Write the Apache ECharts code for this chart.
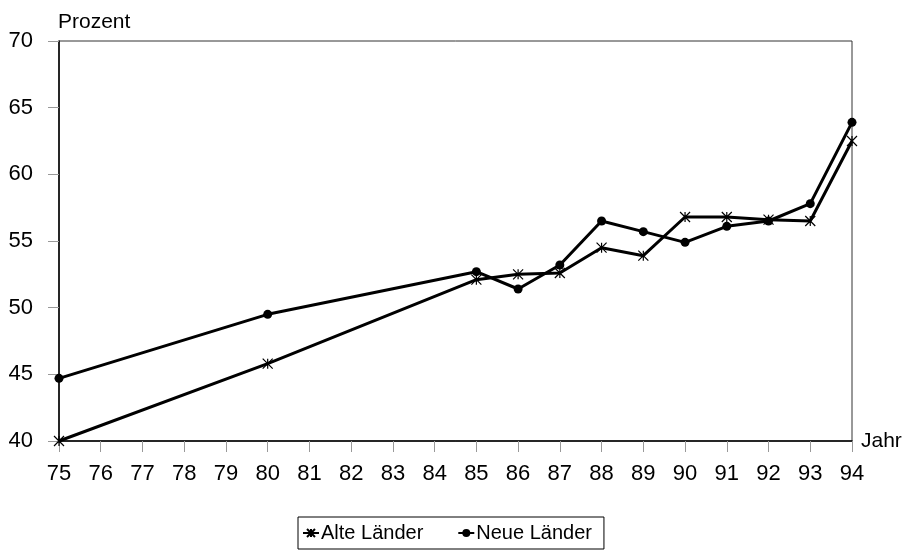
<!DOCTYPE html>
<html>
<head>
<meta charset="utf-8">
<script src="https://cdn.jsdelivr.net/npm/echarts@6/dist/echarts.min.js"></script>
<style>
  html, body { margin: 0; padding: 0; background: #fff; }
  #chart { width: 906px; height: 550px; }
</style>
</head>
<body>
<div id="chart"></div>
<script>
// Years (two-digit) with observations
const years = [75, 80, 85, 86, 87, 88, 89, 90, 91, 92, 93, 94];
// Share in percent
const alteLaender = [40.0, 45.8, 52.1, 52.5, 52.6, 54.5, 53.9, 56.8, 56.8, 56.6, 56.5, 62.5];
const neueLaender = [44.7, 49.5, 52.7, 51.4, 53.2, 56.5, 55.7, 54.9, 56.1, 56.5, 57.8, 63.9];

const seriesNames = ['Alte Länder', 'Neue Länder'];
const yAxisTitle = 'Prozent';
const xAxisTitle = 'Jahr';

const FONT = 'Liberation Sans, Arial, Helvetica, sans-serif';
// six-armed star marker (x with a vertical stroke)
const starSymbol = 'path://M0,0L10,10M10,0L0,10M5,0L5,10';

const pairs = vals => years.map((y, i) => [y, vals[i]]);

const chart = echarts.init(document.getElementById('chart'), null, { renderer: 'canvas' });
chart.setOption({
  animation: false,
  backgroundColor: '#fff',
  textStyle: { fontFamily: FONT, color: '#000' },
  grid: {
    left: 59, top: 41, right: 54, bottom: 109,
    show: true, borderColor: '#333', borderWidth: 1, backgroundColor: 'transparent'
  },
  legend: {
    left: 298, top: 517,
    data: seriesNames,
    orient: 'horizontal',
    borderColor: '#000', borderWidth: 1, borderRadius: 0,
    padding: [6, 12, 6, 4],
    itemGap: 34, itemWidth: 16, itemHeight: 10,
    textStyle: { fontSize: 20, color: '#000', fontFamily: FONT, padding: [0, 0, 0, -3] }
  },
  xAxis: {
    type: 'value', min: 75, max: 94, interval: 1,
    name: xAxisTitle, nameLocation: 'end', nameGap: 9,
    nameTextStyle: { fontSize: 21, color: '#000', align: 'left', verticalAlign: 'middle', padding: [8, 0, 0, 0] },
    axisLine: { show: true, onZero: false, lineStyle: { color: '#000', width: 1.5 } },
    axisTick: { show: true, length: 11, lineStyle: { color: '#999', width: 1 } },
    axisLabel: { fontSize: 22, color: '#000', margin: 22 },
    splitLine: { show: false }
  },
  yAxis: {
    type: 'value', min: 40, max: 70, interval: 5,
    name: yAxisTitle, nameLocation: 'end', nameGap: 8,
    nameTextStyle: { fontSize: 21, color: '#000', align: 'left', padding: [0, 0, 0, -1] },
    axisLine: { show: true, onZero: false, lineStyle: { color: '#000', width: 1.5 } },
    axisTick: { show: true, length: 11, lineStyle: { color: '#999', width: 1 } },
    axisLabel: { fontSize: 22, color: '#000', margin: 26 },
    splitLine: { show: false }
  },
  series: [
    {
      name: seriesNames[0], type: 'line', data: pairs(alteLaender),
      symbol: starSymbol, symbolSize: 10, showAllSymbol: true, clip: false,
      lineStyle: { color: '#000', width: 3 },
      itemStyle: { color: 'rgba(0,0,0,0)', borderColor: '#000', borderWidth: 1.2 },
      z: 3
    },
    {
      name: seriesNames[1], type: 'line', data: pairs(neueLaender),
      symbol: 'circle', symbolSize: 9, showAllSymbol: true, clip: false,
      lineStyle: { color: '#000', width: 3 },
      itemStyle: { color: '#000', borderColor: '#000', borderWidth: 0 },
      z: 4
    }
  ]
});
</script>
</body>
</html>
